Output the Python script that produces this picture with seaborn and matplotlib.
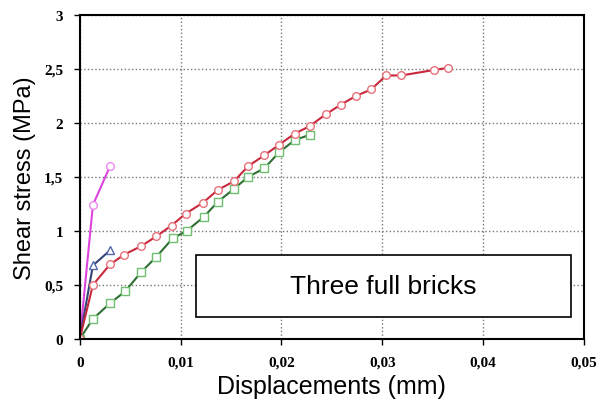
import matplotlib
matplotlib.use("Agg")
import matplotlib.pyplot as plt
import seaborn as sb
from matplotlib.patches import Rectangle

# displacement (mm) / shear stress (MPa)
red_x = [0, 0.0013, 0.003, 0.0044, 0.0061, 0.0076, 0.0091, 0.0105, 0.0122, 0.0137, 0.0153,
         0.0167, 0.0183, 0.0198, 0.0213, 0.0228, 0.0244, 0.0259, 0.0274, 0.0289, 0.0304,
         0.0319, 0.0351, 0.0365]
red_y = [0, 0.50, 0.69, 0.78, 0.86, 0.95, 1.05, 1.16, 1.26, 1.38, 1.46,
         1.60, 1.70, 1.80, 1.90, 1.97, 2.08, 2.17, 2.25, 2.31, 2.44,
         2.44, 2.49, 2.51]

green_x = [0, 0.0013, 0.003, 0.0045, 0.0061, 0.0076, 0.0092, 0.0106, 0.0123, 0.0137, 0.0153,
           0.0167, 0.0183, 0.0198, 0.0213, 0.0228]
green_y = [0, 0.185, 0.33, 0.44, 0.62, 0.76, 0.93, 1.00, 1.13, 1.27, 1.39,
           1.50, 1.58, 1.73, 1.84, 1.89]

magenta_x = [0, 0.0013, 0.003]
magenta_y = [0, 1.24, 1.60]

blue_x = [0, 0.0013, 0.003]
blue_y = [0, 0.68, 0.82]

x_ticks = [0, 0.01, 0.02, 0.03, 0.04, 0.05]
x_labels = ["0", "0,01", "0,02", "0,03", "0,04", "0,05"]
y_ticks = [0, 0.5, 1, 1.5, 2, 2.5, 3]
y_labels = ["0", "0,5", "1", "1,5", "2", "2,5", "3"]

sb.set_style("white")
plt.rcParams.update({"text.color": "black", "axes.labelcolor": "black",
                     "xtick.color": "black", "ytick.color": "black"})
fig, ax = plt.subplots(figsize=(6, 4.1), dpi=100)
fig.subplots_adjust(left=0.133, right=0.973, top=0.961, bottom=0.171)

series = [
    (magenta_x, magenta_y, "#dd44dd", "#ee88ee", "o"),
    (blue_x, blue_y, "#334477", "#5566aa", "^"),
    (green_x, green_y, "#2f6e35", "#6fbf6f", "s"),
    (red_x, red_y, "#c8283c", "#e8707a", "o"),
]
for xs, ys, col, edge, mk in series:
    sb.lineplot(x=xs, y=ys, ax=ax, color=col, marker=mk, markersize=5.5,
                markerfacecolor="white", markeredgecolor=edge, markeredgewidth=1,
                linewidth=1.5, sort=False, estimator=None)

ax.set_xlim(0, 0.05)
ax.set_ylim(0, 3)
ax.set_xticks(x_ticks)
ax.set_xticklabels(x_labels, family="Liberation Serif", fontsize=11, fontweight="bold")
ax.set_yticks(y_ticks)
ax.set_yticklabels(y_labels, family="Liberation Serif", fontsize=11, fontweight="bold")
ax.tick_params(axis="both", bottom=True, left=True, direction="out", length=4, width=1,
               color="black", pad=8)
ax.grid(True, linestyle=":", color="#777777", linewidth=1)
for s in ax.spines.values():
    s.set_color("black")
    s.set_linewidth(1.5)

ax.set_xlabel("Displacements (mm)", family="Liberation Sans", fontsize=18, labelpad=4)
ax.set_ylabel("Shear stress (MPa)", family="Liberation Sans", fontsize=17, labelpad=6)

box = Rectangle((0.0115, 0.2), 0.0372, 0.58, facecolor="white", edgecolor="black",
                linewidth=1.2, zorder=5)
ax.add_patch(box)
ax.text(0.0301, 0.49, "Three full bricks", ha="center", va="center",
        family="Liberation Sans", fontsize=19, zorder=6)

plt.savefig("out.png", dpi=100)
